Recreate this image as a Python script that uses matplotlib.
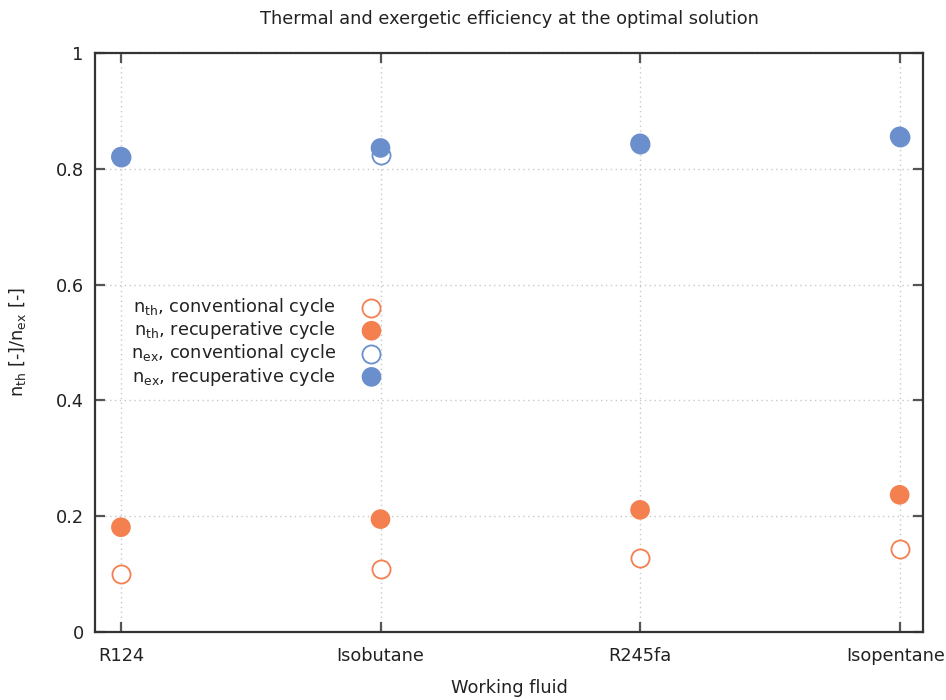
import numpy as np
import matplotlib
matplotlib.use('Agg')
import matplotlib.pyplot as plt

fluids = ['R124', 'Isobutane', 'R245fa', 'Isopentane']
eta_th_conv = [0.100, 0.109, 0.127, 0.144]
eta_th_recup = [0.181, 0.195, 0.211, 0.237]
eta_ex_conv = [0.820, 0.824, 0.843, 0.855]
eta_ex_recup = [0.821, 0.836, 0.844, 0.856]

orange = '#f47f4f'
blue = '#6b8fcc'
text_col = '#222222'
fs = 12.8

plt.rcParams['font.family'] = 'DejaVu Sans'
plt.rcParams['mathtext.default'] = 'regular'

fig = plt.figure(figsize=(9.46, 7.0), dpi=100)
ax = fig.add_axes([0.1004, 0.0971, 0.8753, 0.8272])

x = np.arange(len(fluids))
ms = 200
ax.scatter(x, eta_th_conv, s=ms * 0.85, facecolors='white', edgecolors=orange,
           linewidths=1.3, label=r'n$_{th}$, conventional cycle', zorder=3)
ax.scatter(x, eta_th_recup, s=ms, color=orange, edgecolors='none',
           label=r'n$_{th}$, recuperative cycle', zorder=4)
ax.scatter(x, eta_ex_conv, s=ms * 0.85, facecolors='white', edgecolors=blue,
           linewidths=1.3, label=r'n$_{ex}$, conventional cycle', zorder=3)
ax.scatter(x, eta_ex_recup, s=ms, color=blue, edgecolors='none',
           label=r'n$_{ex}$, recuperative cycle', zorder=4)

ax.set_xlim(-0.1, 3.09)
ax.set_ylim(0, 1)
ax.set_xticks(x)
# last label sits at the right edge of the figure: draw it nudged left
ax.set_xticklabels(fluids[:-1] + [''])
ax.annotate(fluids[-1], xy=(x[-1], 0), xycoords=('data', 'axes fraction'),
            xytext=(-3, -11), textcoords='offset points', ha='center',
            va='top', fontsize=fs, color=text_col, annotation_clip=False)
ax.set_yticks([0, 0.2, 0.4, 0.6, 0.8, 1.0])
ax.set_yticklabels(['0', '0.2', '0.4', '0.6', '0.8', '1'])

ax.grid(True, linestyle=(0, (1, 2.5)), color='#c8c8c8', linewidth=1.0)
ax.set_axisbelow(True)
for sp in ax.spines.values():
    sp.set_color('#333333')
    sp.set_linewidth(1.6)
ax.tick_params(direction='in', length=7, width=1.6, color='#555555',
               top=True, right=True, labelsize=fs, labelcolor=text_col, pad=8)
ax.tick_params(axis='x', pad=11)

ax.set_xlabel('Working fluid', fontsize=fs, color=text_col, labelpad=10)
ax.set_ylabel(r'n$_{th}$ [-]/n$_{ex}$ [-]', fontsize=fs, color=text_col,
              labelpad=20)
ax.set_title('Thermal and exergetic efficiency at the optimal solution',
             fontsize=fs, color=text_col, pad=21)

ax.legend(loc='upper right', bbox_to_anchor=(0.364, 0.592), frameon=False,
          markerfirst=False, fontsize=fs, labelspacing=0.06, handletextpad=1.0,
          borderaxespad=0, labelcolor=text_col)

fig.savefig('out.png', dpi=100)
